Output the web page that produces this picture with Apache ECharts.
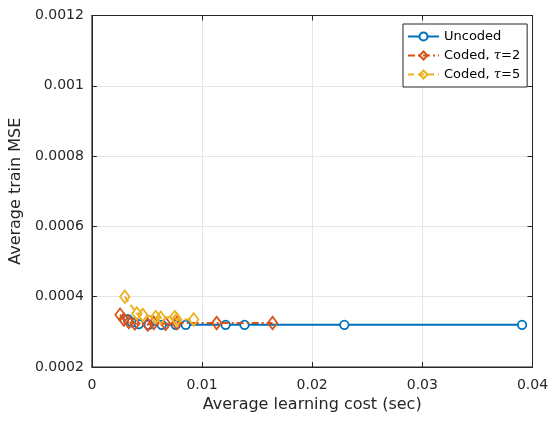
<!DOCTYPE html>
<html>
<head>
<meta charset="utf-8">
<script src="https://cdn.jsdelivr.net/npm/echarts@6/dist/echarts.min.js"></script>
<style>html,body{margin:0;padding:0;background:#fff}#c{width:560px;height:421px}</style>
</head>
<body>
<div id="c"></div>
<script>
const seriesNames = ['Uncoded', 'Coded, τ=2', 'Coded, τ=5'];
const uncodedX = [0.00326, 0.00362, 0.00426, 0.00516, 0.00634, 0.00761, 0.00852, 0.01214, 0.01386, 0.02292, 0.03905];
const uncodedY = [0.000336, 0.000327, 0.000322, 0.00032, 0.00032, 0.00032, 0.00032, 0.00032, 0.00032, 0.00032, 0.00032];
const coded2X = [0.00256, 0.0029, 0.00335, 0.0039, 0.00507, 0.00562, 0.0067, 0.0077, 0.01133, 0.0164];
const coded2Y = [0.000349, 0.000335, 0.000328, 0.000324, 0.000321, 0.000325, 0.000323, 0.000325, 0.000325, 0.000325];
const coded5X = [0.00299, 0.00408, 0.00462, 0.0058, 0.00625, 0.00752, 0.0077, 0.00924];
const coded5Y = [0.0004, 0.000352, 0.000348, 0.000342, 0.00034, 0.000342, 0.000335, 0.000335];
const xTicks = [0, 0.01, 0.02, 0.03, 0.04];
const yTicks = [0.0002, 0.0004, 0.0006, 0.0008, 0.001, 0.0012];

const zip = (xs, ys) => xs.map((x, i) => [x, ys[i]]);
const font = 'DejaVu Sans, Liberation Sans, sans-serif';
const fmt = v => String(Number(v.toFixed(6)));
const axisColor = '#262626';

const baseX = {
  type: 'value', min: xTicks[0], max: xTicks[xTicks.length - 1], interval: xTicks[1] - xTicks[0]
};
const baseY = {
  type: 'value', min: yTicks[0], max: yTicks[yTicks.length - 1], interval: 0.0002
};

const chart = echarts.init(document.getElementById('c'), null, {renderer: 'canvas'});
chart.setOption({
  animation: false,
  backgroundColor: '#fff',
  textStyle: {fontFamily: font},
  grid: {left: 91, right: 27.5, top: 15.5, bottom: 54, show: true, borderColor: axisColor, borderWidth: 1, backgroundColor: '#fff'},
  legend: {
    orient: 'vertical', left: 403, top: 24,
    padding: [6, 7, 6, 4],
    itemWidth: 31, itemHeight: 10, itemGap: 6,
    backgroundColor: '#fff', borderColor: axisColor, borderWidth: 1, borderRadius: 0,
    textStyle: {fontSize: 13, color: '#000', fontFamily: font, rich: {i: {fontStyle: 'italic', fontSize: 13, fontFamily: 'DejaVu Serif, serif'}}},
    formatter: n => n.replace('τ', '{i|τ}'),
    data: seriesNames
  },
  xAxis: [
    Object.assign({}, baseX, {
      position: 'bottom',
      name: 'Average learning cost (sec)', nameLocation: 'middle', nameGap: 30,
      nameTextStyle: {fontSize: 16, color: axisColor, fontFamily: font},
      axisLine: {show: true, onZero: false, lineStyle: {color: axisColor, width: 1}},
      axisTick: {show: true, inside: true, length: 5, lineStyle: {color: axisColor}},
      axisLabel: {fontSize: 14, color: axisColor, margin: 11, formatter: fmt, fontFamily: font},
      splitLine: {show: true, lineStyle: {color: '#e6e6e6', width: 1}}
    }),
    Object.assign({}, baseX, {
      position: 'top',
      axisLine: {show: true, onZero: false, lineStyle: {color: axisColor, width: 1}},
      axisTick: {show: true, inside: true, length: 5, lineStyle: {color: axisColor}},
      axisLabel: {show: false},
      splitLine: {show: false}
    })
  ],
  yAxis: [
    Object.assign({}, baseY, {
      position: 'left',
      name: 'Average train MSE', nameLocation: 'middle', nameGap: 61,
      nameTextStyle: {fontSize: 16, color: axisColor, fontFamily: font},
      axisLine: {show: true, onZero: false, lineStyle: {color: axisColor, width: 1}},
      axisTick: {show: true, inside: true, length: 5, lineStyle: {color: axisColor}},
      axisLabel: {fontSize: 14, color: axisColor, margin: 8, formatter: fmt, fontFamily: font},
      splitLine: {show: true, lineStyle: {color: '#e6e6e6', width: 1}}
    }),
    Object.assign({}, baseY, {
      position: 'right',
      axisLine: {show: true, onZero: false, lineStyle: {color: axisColor, width: 1}},
      axisTick: {show: true, inside: true, length: 5, lineStyle: {color: axisColor}},
      axisLabel: {show: false},
      splitLine: {show: false}
    })
  ],
  series: [
    {
      name: seriesNames[0], type: 'line', data: zip(uncodedX, uncodedY),
      symbol: 'circle', symbolSize: 8.5, showAllSymbol: true,
      itemStyle: {color: '#fff', borderColor: '#0072BD', borderWidth: 1.8},
      lineStyle: {color: '#0072BD', width: 2, type: 'solid'},
      color: '#0072BD', z: 2
    },
    {
      name: seriesNames[1], type: 'line', data: zip(coded2X, coded2Y),
      symbol: 'diamond', symbolSize: [9.5, 12.5], showAllSymbol: true,
      itemStyle: {color: 'rgba(255,255,255,0)', borderColor: '#D95319', borderWidth: 1.8},
      lineStyle: {color: '#D95319', width: 2, type: [7, 3, 2, 3]},
      color: '#D95319', z: 3
    },
    {
      name: seriesNames[2], type: 'line', data: zip(coded5X, coded5Y),
      symbol: 'diamond', symbolSize: [9.5, 12.5], showAllSymbol: true,
      itemStyle: {color: 'rgba(255,255,255,0)', borderColor: '#EDB120', borderWidth: 1.8},
      lineStyle: {color: '#EDB120', width: 2, type: [6, 4]},
      color: '#EDB120', z: 4
    }
  ]
});
</script>
</body>
</html>
